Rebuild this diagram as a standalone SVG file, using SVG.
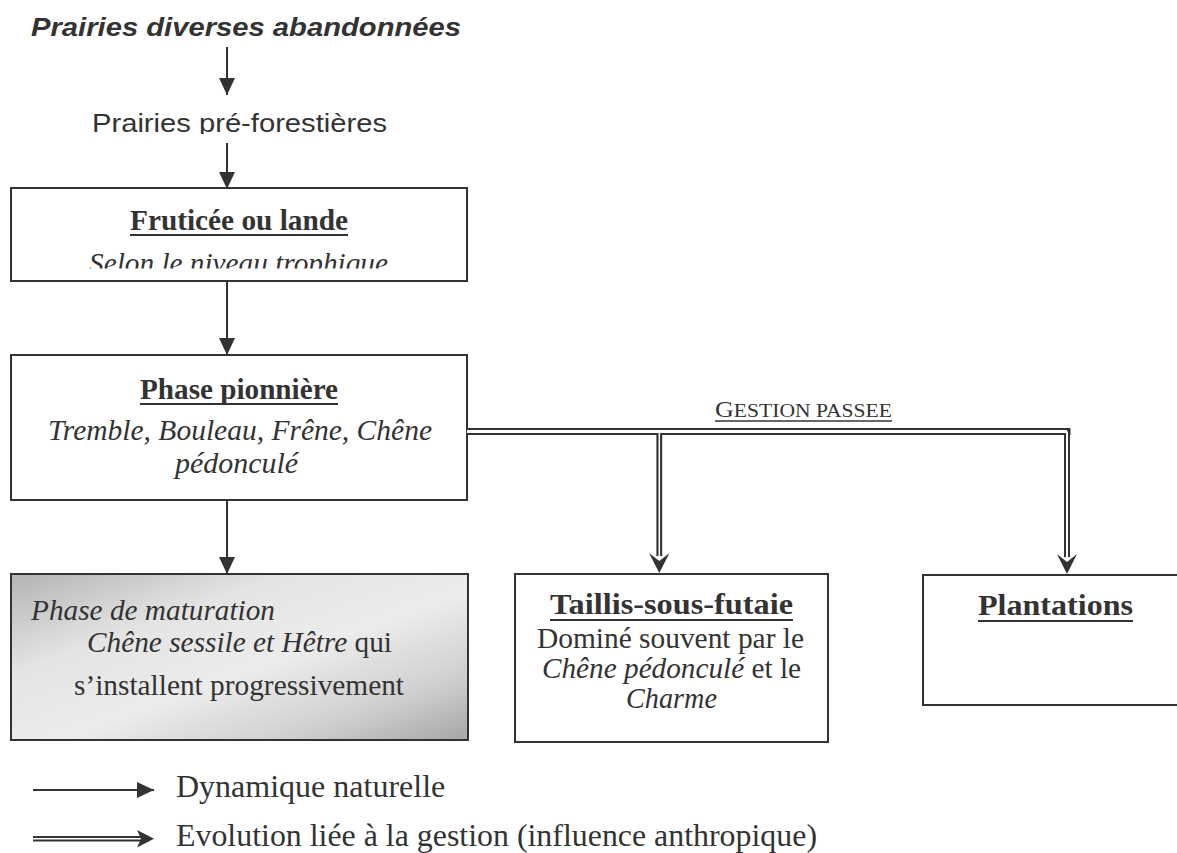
<svg xmlns="http://www.w3.org/2000/svg" width="1177" height="853" viewBox="0 0 1177 853">
<style>
.sans{font-family:"Liberation Sans",Arial,sans-serif;fill:#333}
.serif{font-family:"Liberation Serif","Times New Roman",serif;fill:#333}
.b{font-weight:bold}
.i{font-style:italic}
.box{fill:#fff;stroke:#333;stroke-width:2}
.ln{stroke:#333;stroke-width:2;fill:none}
.ul{stroke:#333;stroke-width:2}
.ah{fill:#333}
</style>
<defs>
<marker id="arr" markerUnits="userSpaceOnUse" markerWidth="17" markerHeight="16" viewBox="0 0 17 16" refX="17" refY="8" orient="auto">
<path d="M0,0 L17,8 L0,16 z" fill="#333"/>
</marker>
<linearGradient id="grad" x1="0" y1="0" x2="1" y2="1">
<stop offset="0" stop-color="#b3b3b3"/>
<stop offset="0.3" stop-color="#e4e4e4"/>
<stop offset="0.55" stop-color="#ececec"/>
<stop offset="0.8" stop-color="#cfcfcf"/>
<stop offset="1" stop-color="#a6a6a6"/>
</linearGradient>
<clipPath id="clip1"><rect x="0" y="100" width="600" height="34"/></clipPath>
<clipPath id="clip2"><rect x="0" y="240" width="600" height="28.5"/></clipPath>
</defs>

<g id="n-prairies-abandonnees">
<text class="sans b i" x="31" y="36" font-size="26" textLength="430" lengthAdjust="spacingAndGlyphs">Prairies diverses abandonnées</text>
</g>

<g id="n-prairies-preforestieres" clip-path="url(#clip1)">
<text class="sans" x="92" y="132" font-size="26" textLength="295" lengthAdjust="spacingAndGlyphs">Prairies pré-forestières</text>
</g>

<g id="n-fruticee">
<rect class="box" x="11" y="188" width="456" height="93"/>
<text class="serif b" x="130" y="230" font-size="29.5" textLength="218" lengthAdjust="spacingAndGlyphs">Fruticée ou lande</text>
<line class="ul" x1="130" y1="235" x2="348" y2="235"/>
<g clip-path="url(#clip2)">
<text class="serif i" x="89" y="273" font-size="29.5" textLength="299" lengthAdjust="spacingAndGlyphs">Selon le niveau trophique</text>
</g>
</g>

<g id="n-pionniere">
<rect class="box" x="11" y="355" width="456" height="145"/>
<text class="serif b" x="140" y="399" font-size="29.5" textLength="198" lengthAdjust="spacingAndGlyphs">Phase pionnière</text>
<line class="ul" x1="140" y1="404" x2="338" y2="404"/>
<text class="serif i" x="48" y="440" font-size="29.5" textLength="384" lengthAdjust="spacingAndGlyphs">Tremble, Bouleau, Frêne, Chêne</text>
<text class="serif i" x="175" y="473" font-size="29.5" textLength="123" lengthAdjust="spacingAndGlyphs">pédonculé</text>
</g>

<g id="n-maturation">
<rect x="11" y="574" width="457" height="166" fill="url(#grad)" stroke="#333" stroke-width="2"/>
<text class="serif i" x="31" y="620" font-size="29.5" textLength="244" lengthAdjust="spacingAndGlyphs">Phase de maturation</text>
<text class="serif" x="87" y="652" font-size="29.5" textLength="305" lengthAdjust="spacingAndGlyphs"><tspan font-style="italic">Chêne sessile et Hêtre</tspan> qui</text>
<text class="serif" x="74" y="695" font-size="29.5" textLength="330" lengthAdjust="spacingAndGlyphs">s’installent progressivement</text>
</g>

<g id="n-taillis">
<rect class="box" x="515" y="574" width="313" height="168"/>
<text class="serif b" x="550" y="614" font-size="29.5" textLength="243" lengthAdjust="spacingAndGlyphs">Taillis-sous-futaie</text>
<line class="ul" x1="550" y1="620" x2="793" y2="620"/>
<text class="serif" x="537" y="648" font-size="29.5" textLength="267" lengthAdjust="spacingAndGlyphs">Dominé souvent par le</text>
<text class="serif" x="542" y="678" font-size="29.5" textLength="259" lengthAdjust="spacingAndGlyphs"><tspan font-style="italic">Chêne pédonculé</tspan> et le</text>
<text class="serif i" x="626" y="708" font-size="29.5" textLength="91" lengthAdjust="spacingAndGlyphs">Charme</text>
</g>

<g id="n-plantations">
<rect class="box" x="923" y="575" width="260" height="130"/>
<text class="serif b" x="978" y="615" font-size="29.5" textLength="155" lengthAdjust="spacingAndGlyphs">Plantations</text>
<line class="ul" x1="978" y1="621" x2="1133" y2="621"/>
</g>

<g id="connectors">
<line class="ln" x1="227" y1="47" x2="227" y2="95" marker-end="url(#arr)"/>
<line class="ln" x1="227" y1="143" x2="227" y2="189" marker-end="url(#arr)"/>
<line class="ln" x1="227" y1="281" x2="227" y2="355" marker-end="url(#arr)"/>
<line class="ln" x1="227" y1="500" x2="227" y2="574" marker-end="url(#arr)"/>
<path d="M467,431.5 H1070.5" fill="none" stroke="#333" stroke-width="7"/>
<path d="M659.3,431.5 V556" fill="none" stroke="#333" stroke-width="5.8"/>
<path d="M1067,428 V557" fill="none" stroke="#333" stroke-width="6"/>
<path d="M467,431.5 H1067" fill="none" stroke="#fff" stroke-width="3.2"/>
<path d="M659.3,431.5 V557" fill="none" stroke="#fff" stroke-width="1.5"/>
<path d="M1067,431.5 V558" fill="none" stroke="#fff" stroke-width="2"/>
<path class="ah" d="M649,553 L659.3,573 L669.5,553 L659.3,561 z"/>
<path class="ah" d="M1057,554 L1067,574 L1077,554 L1067,562 z"/>
<text class="serif" x="715" y="417" textLength="177" lengthAdjust="spacingAndGlyphs"><tspan font-size="23">G</tspan><tspan font-size="19">ESTION PASSEE</tspan></text>
<line x1="715" y1="421" x2="892" y2="421" stroke="#333" stroke-width="1.3"/>
</g>

<g id="legend">
<line class="ln" x1="33" y1="790" x2="154" y2="790" marker-end="url(#arr)"/>
<text class="serif" x="176" y="797" font-size="32">Dynamique naturelle</text>
<path d="M33,838.8 H141" fill="none" stroke="#333" stroke-width="5.4"/>
<path d="M32,838.8 H142" fill="none" stroke="#fff" stroke-width="1.4"/>
<path class="ah" d="M137,830 L154,838.8 L137,847.5 L141,838.8 z"/>
<text class="serif" x="176" y="846" font-size="32" textLength="641" lengthAdjust="spacingAndGlyphs">Evolution liée à la gestion (influence anthropique)</text>
</g>
</svg>
